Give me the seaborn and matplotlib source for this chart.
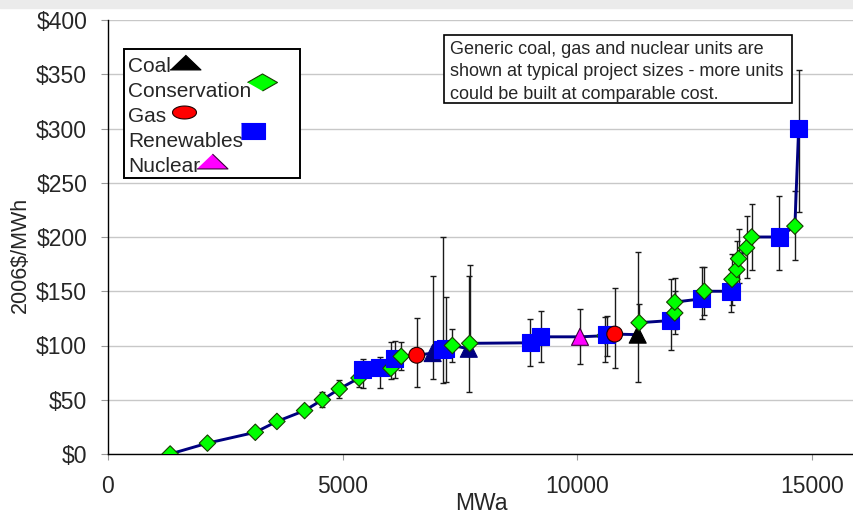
import numpy as np
import pandas as pd
import matplotlib
matplotlib.use("Agg")
import matplotlib.pyplot as plt
from matplotlib.patches import Rectangle
import seaborn as sns

# Resource points in the order the supply curve passes them
mwa = [1325, 2120, 3140, 3600, 4190, 4570, 4930, 5350, 5430, 5800,
       6030, 6110, 6250, 6580, 6920, 7130, 7200, 7340, 7690, 7710,
       9000, 9220, 10060, 10590, 10630, 10800, 11290, 11320, 11990, 12080,
       12080, 12650, 12710, 13280, 13300, 13400, 13440, 13610, 13720, 14310,
       14640, 14720]
cost = [0, 10, 20, 30, 40, 50, 60, 70, 78, 80,
        79, 88, 90, 91, 93, 96, 97, 100, 97, 102,
        102.5, 108, 108, 109, 110, 110.5, 110, 121, 123, 130,
        140, 143, 150, 150, 161, 170, 180, 190, 200, 200,
        210, 300]
kind = ["Conservation"] * 8 + [
    "Renewables", "Renewables", "Conservation", "Renewables", "Conservation",
    "Gas", "Coal IGCC", "Renewables", "Renewables", "Conservation",
    "Coal IGCC", "Conservation", "Renewables", "Renewables", "Nuclear",
    "Conservation", "Renewables", "Gas", "Coal", "Conservation",
    "Renewables", "Conservation", "Conservation", "Renewables", "Conservation",
    "Renewables", "Conservation", "Conservation", "Conservation", "Conservation",
    "Conservation", "Renewables", "Conservation", "Renewables"]
# uncertainty range (low, high) in 2006$/MWh, nan = no bar
err_low = [np.nan] * 5 + [43, 52, 62, 61, 61,
           69, 70, 77, 62, 69, 65, 66, 85, 57, 90,
           81, 85, 83, 85, 90, 79, 66, 110, 96, 111,
           115, 124, 128, 131, 137, 150, 158, 162, 170, 170,
           179, 223]
err_high = [np.nan] * 5 + [57, 68, 78, 88, 89,
            103, 104, 103, 125, 164, 200, 145, 115, 164, 174,
            124, 132, 134, 126, 127, 153, 186, 138, 161, 162,
            150, 172, 172, 154, 184, 196, 207, 219, 230, 238,
            242, 354]

legend_labels = ["Coal", "Conservation", "Gas", "Renewables", "Nuclear"]
note_lines = ["Generic coal, gas and nuclear units are",
              "shown at typical project sizes - more units",
              "could be built at comparable cost."]
yticks = [0, 50, 100, 150, 200, 250, 300, 350, 400]
ytick_labels = ["$" + str(v) for v in yticks]
xticks = [0, 5000, 10000, 15000]

df = pd.DataFrame({"mwa": mwa, "cost": cost, "kind": kind,
                   "lo": err_low, "hi": err_high})

colors = {"Coal": "#000000", "Coal IGCC": "#000080", "Conservation": "#00ff00",
          "Gas": "#ff0000", "Renewables": "#0000ff", "Nuclear": "#ff00ff"}
edges = {"Coal": "#000000", "Coal IGCC": "#000080", "Conservation": "#173d00",
         "Gas": "#200000", "Renewables": "#0000ff", "Nuclear": "#3a003a"}
markers = {"Coal": "^", "Coal IGCC": "^", "Conservation": "D",
           "Gas": "o", "Renewables": "s", "Nuclear": "^"}
sizes = {"Coal": 150, "Coal IGCC": 150, "Conservation": 70,
         "Gas": 130, "Renewables": 155, "Nuclear": 150}

sns.set_theme(style="white")
plt.rcParams["font.family"] = ["Liberation Sans", "DejaVu Sans"]

W, H = 854, 514
AX_L, AX_R, AX_T, AX_B = 108, 854, 20, 454

fig = plt.figure(figsize=(W / 100, H / 100), dpi=100)
ax = fig.add_axes([AX_L / W, 1 - AX_B / H, (AX_R - AX_L) / W, (AX_B - AX_T) / H])


def to_ax(px, py):
    return (px - AX_L) / (AX_R - AX_L), (AX_B - py) / (AX_B - AX_T)


# faint band at the very top of the slide
fig.patches.append(Rectangle((0, 1 - 8 / H), 1, 8 / H, transform=fig.transFigure,
                             color="#ebebeb", zorder=0))

# error bars
eb = df.dropna(subset=["lo"])
ax.errorbar(eb["mwa"], eb["cost"], yerr=[eb["cost"] - eb["lo"], eb["hi"] - eb["cost"]],
            fmt="none", ecolor="#1a1a1a", elinewidth=1.0, capsize=2.3, capthick=1.0,
            zorder=2)

# supply curve
sns.lineplot(data=df, x="mwa", y="cost", sort=False, estimator=None,
             color="#000080", linewidth=2.1, ax=ax, zorder=3)

# resource markers, drawn in curve order
sns.scatterplot(data=df, x="mwa", y="cost", hue="kind", style="kind", size="kind",
                palette=colors, markers=markers, sizes=sizes, legend=False,
                linewidth=0.8, ax=ax, zorder=4)
pts = ax.collections[-1]
pts.set_edgecolors([edges[k] for k in df["kind"]])

ax.set_xlim(0, 15900)
ax.set_ylim(0, 400)
ax.set_xticks(xticks)
ax.set_xticklabels([str(v) for v in xticks])
ax.set_yticks(yticks)
ax.set_yticklabels(ytick_labels)
ax.tick_params(axis="x", direction="out", length=4, width=0.8, color="#999999",
               pad=11, labelsize=16.5, bottom=True)
ax.tick_params(axis="y", direction="out", length=5, width=0.8, color="#999999",
               pad=10, labelsize=16.5, left=True)
ax.yaxis.grid(True, color="#c8c8c8", linewidth=1)
ax.set_axisbelow(True)
for s in ["top", "right"]:
    ax.spines[s].set_visible(False)
for s in ["left", "bottom"]:
    ax.spines[s].set_color("black")
    ax.spines[s].set_linewidth(1.0)

ax.set_xlabel("MWa", fontsize=16.5)
ax.set_ylabel("2006$/MWh", fontsize=15.5)
ax.xaxis.set_label_coords(0.5, to_ax(0, 492)[1])
ax.yaxis.set_label_coords(to_ax(31, 0)[0], to_ax(0, 255)[1])

# note box
x0, y0 = to_ax(444, 103)
x1, y1 = to_ax(792, 35)
ax.add_patch(Rectangle((x0, y0), x1 - x0, y1 - y0, transform=ax.transAxes,
                       facecolor="white", edgecolor="black", linewidth=1.2,
                       zorder=5, clip_on=False))
for i, line in enumerate(note_lines):
    tx, ty = to_ax(450, 54 + i * 22.5)
    ax.text(tx, ty, line, transform=ax.transAxes, fontsize=13,
            ha="left", va="baseline", zorder=6)

# legend box with markers trailing each label
x0, y0 = to_ax(124, 178)
x1, y1 = to_ax(300, 49)
ax.add_patch(Rectangle((x0, y0), x1 - x0, y1 - y0, transform=ax.transAxes,
                       facecolor="white", edgecolor="black", linewidth=1.4,
                       zorder=5, clip_on=False))
t = np.linspace(0, 2 * np.pi, 40)
leg_shapes = {
    "Coal": [(-1, -0.48), (1, -0.48), (0, 0.48)],
    "Conservation": [(-1, 0), (0, 0.57), (1, 0), (0, -0.57)],
    "Gas": list(zip(np.cos(t), 0.54 * np.sin(t))),
    "Renewables": [(-1, -0.67), (1, -0.67), (1, 0.67), (-1, 0.67)],
    "Nuclear": [(-1, -0.48), (1, -0.48), (0, 0.48)],
}
leg_width = {"Coal": 31, "Conservation": 30, "Gas": 24, "Renewables": 24, "Nuclear": 31}
leg_dx = {"Coal": -1, "Conservation": -4, "Gas": 6, "Renewables": -2, "Nuclear": -4}
leg_dy = {"Coal": -3, "Conservation": -7.5, "Gas": -2.5, "Renewables": -8.5, "Nuclear": -4}

texts = []
for i, lab in enumerate(legend_labels):
    cy = 65 + i * 24.9
    tx, ty = to_ax(128, cy + 7.5)
    texts.append(ax.text(tx, ty, lab, transform=ax.transAxes, fontsize=15,
                         ha="left", va="baseline", zorder=6))
fig.canvas.draw()
renderer = fig.canvas.get_renderer()
for i, (lab, txt) in enumerate(zip(legend_labels, texts)):
    bb = txt.get_window_extent(renderer)
    cy = 65 + i * 24.9 + leg_dy[lab]
    cx = bb.x1 + leg_width[lab] / 2 + leg_dx[lab]
    mx, my = to_ax(cx, cy)
    ax.plot([mx], [my], transform=ax.transAxes, linestyle="none",
            marker=leg_shapes[lab], markersize=leg_width[lab] * 0.72,
            markerfacecolor=colors[lab], markeredgecolor=edges[lab],
            markeredgewidth=0.8, zorder=7, clip_on=False)

fig.savefig("out.png", dpi=100)
plt.close(fig)
